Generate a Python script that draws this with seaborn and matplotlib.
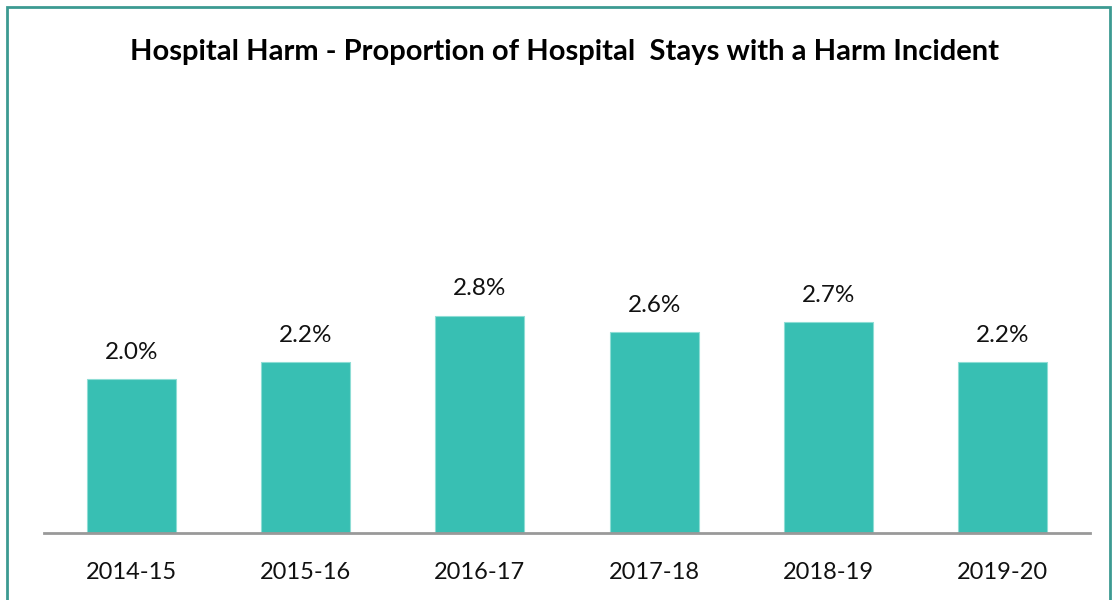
import matplotlib
matplotlib.use("Agg")
import matplotlib.pyplot as plt
import seaborn as sns
import pandas as pd
from matplotlib.patches import Rectangle

years = ["2014-15", "2015-16", "2016-17", "2017-18", "2018-19", "2019-20"]
values = [2.0, 2.22, 2.82, 2.61, 2.74, 2.22]
labels = ["2.0%", "2.2%", "2.8%", "2.6%", "2.7%", "2.2%"]
title = "Hospital Harm - Proportion of Hospital  Stays with a Harm Incident"

sns.set_theme(style="white")
plt.rcParams['font.family'] = ['Lato', 'DejaVu Sans']

df = pd.DataFrame({"year": years, "value": values})

fig = plt.figure(figsize=(11.17, 6.0), dpi=100)
ax = fig.add_axes([44/1117, 67/600, (1090-44)/1117, (533-110)/600])
sns.barplot(data=df, x="year", y="value", color="#38BFB3", saturation=1,
            width=0.51, ax=ax, edgecolor="#8EDDD5", linewidth=0.8)

ax.set_ylim(0, 5.5)
ax.set_xlim(-0.5, len(years) - 0.5)
for side in ["top", "right", "left"]:
    ax.spines[side].set_visible(False)
ax.spines["bottom"].set_color("#999999")
ax.spines["bottom"].set_linewidth(2)
ax.set_yticks([])
ax.set_xlabel("")
ax.set_ylabel("")
ax.tick_params(axis="x", length=0, pad=21, labelsize=17, labelcolor="#111111")

for i, (v, lab) in enumerate(zip(values, labels)):
    ax.annotate(lab, (i, v), xytext=(0, 12), textcoords="offset points",
                ha="center", va="bottom", fontsize=17.5, color="#111111")

fig.text(565/1117, 1 - 52/600, title, ha="center", va="center",
         fontsize=21, fontweight="bold", color="#000000")

fig.patches.append(Rectangle((7/1117, -0.1), (1110-7)/1117, 1.1 - 7/600,
                             transform=fig.transFigure, fill=False,
                             edgecolor="#3C9A92", linewidth=2))

fig.savefig("out.png", dpi=100, facecolor="white")
